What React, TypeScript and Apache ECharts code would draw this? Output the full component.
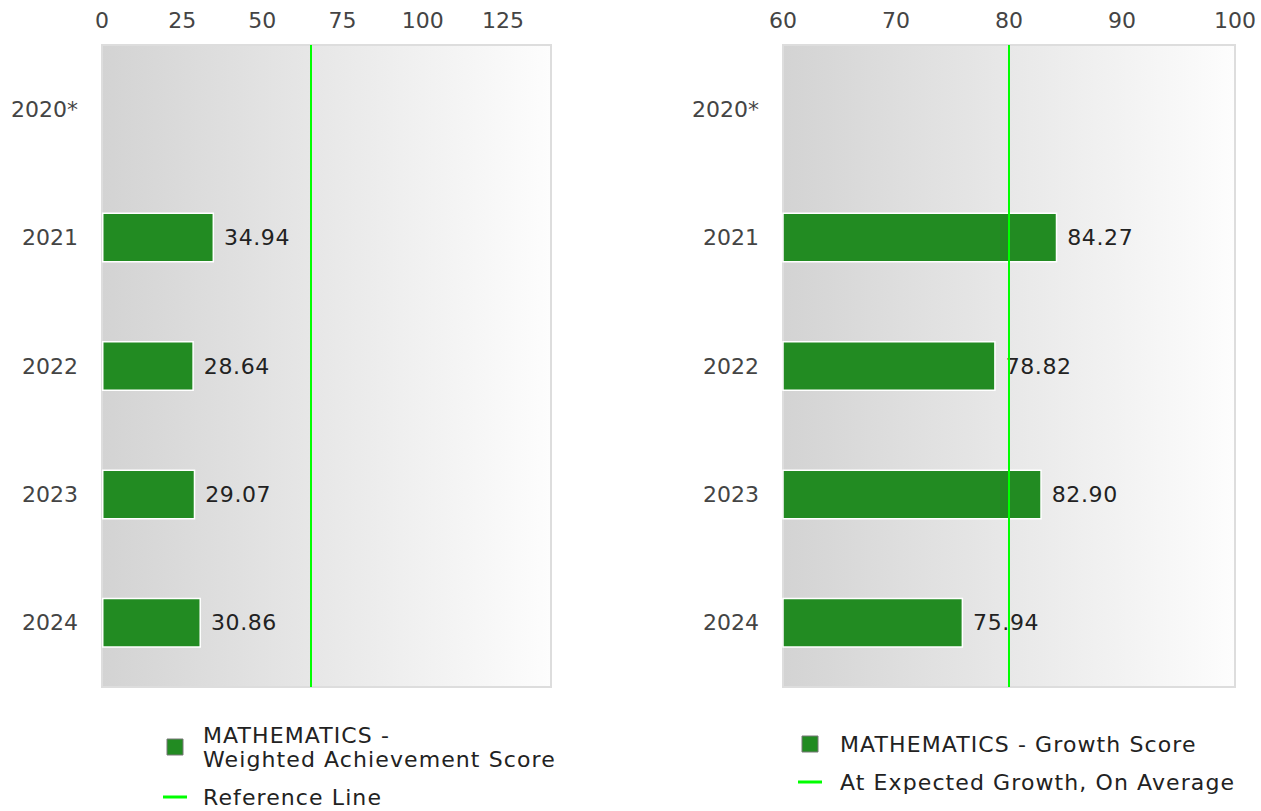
import React, { useEffect, useRef } from "react";
import * as echarts from "echarts";

const years = ["2020*", "2021", "2022", "2023", "2024"];
const achievement: (number | null)[] = [null, 34.94, 28.64, 29.07, 30.86];
const growth: (number | null)[] = [null, 84.27, 78.82, 82.9, 75.94];
const achievementRef = 65;
const growthRef = 80;
const achName = "MATHEMATICS - Weighted Achievement Score";
const achRefName = "Reference Line";
const growthName = "MATHEMATICS - Growth Score";
const growthRefName = "At Expected Growth, On Average";

const FONT = "DejaVu Sans";
const FS = 22;
const GREEN = "#228B22";
const REF = "#00ff00";

export default function App() {
  const ref = useRef<HTMLDivElement>(null);
  useEffect(() => {
    const chart = echarts.init(ref.current!, null, { renderer: "svg" });
    const bg = () =>
      new echarts.graphic.LinearGradient(0, 0, 1, 0, [
        { offset: 0, color: "#d3d3d3" },
        { offset: 1, color: "#fdfdfd" },
      ]);
    const gridCommon = {
      top: 45,
      height: 642,
      show: true,
      borderColor: "#dddddd",
      borderWidth: 2,
    };
    const valueAxis = (idx: number, min: number, max: number, interval: number, showMax: boolean) => ({
      type: "value",
      gridIndex: idx,
      position: "top",
      min,
      max,
      interval,
      axisLine: { show: false },
      axisTick: { show: false },
      splitLine: { show: false },
      axisLabel: {
        margin: 14,
        color: "#444",
        fontFamily: FONT,
        fontSize: FS,
        showMaxLabel: showMax,
      },
    });
    const catAxis = (idx: number) => ({
      type: "category",
      gridIndex: idx,
      data: years,
      inverse: true,
      axisLine: { show: false },
      axisTick: { show: false },
      axisLabel: { margin: 24, color: "#444", fontFamily: FONT, fontSize: FS },
    });
    const barSeries = (name: string, idx: number, data: (number | null)[], refVal: number) => ({
      type: "bar",
      name,
      xAxisIndex: idx,
      yAxisIndex: idx,
      data,
      barWidth: 50,
      clip: true,
      itemStyle: { color: GREEN, borderColor: "#ffffff", borderWidth: 1.5 },
      label: {
        show: true,
        position: "right",
        distance: 10,
        color: "#222",
        fontFamily: FONT,
        fontSize: FS,
        formatter: (p: any) => Number(p.value).toFixed(2),
      },
      markLine: {
        silent: true,
        symbol: "none",
        label: { show: false },
        lineStyle: { color: REF, width: 2, type: "solid" },
        data: [{ xAxis: refVal }],
      },
      z: 2,
    });
    const lineSeries = (name: string, idx: number) => ({
      type: "line",
      name,
      xAxisIndex: idx,
      yAxisIndex: idx,
      data: [],
      symbol: "none",
      color: REF,
      lineStyle: { color: REF, width: 3 },
    });
    const legend = (left: number, top: number, names: string[], padLeft: number) => ({
      orient: "vertical",
      left,
      top,
      padding: 0,
      itemGap: 14,
      itemWidth: 24,
      itemHeight: 16,
      data: [
        {
          name: names[0],
          icon: "path://M0,0H10V10H0Z",
          itemStyle: { color: GREEN, borderColor: "#777", borderWidth: 1 },
        },
        {
          name: names[1],
          icon: "path://M0,0H24V3H0Z",
          itemStyle: { color: REF, borderWidth: 0 },
        },
      ],
      formatter: (n: string) => (n === achName ? "MATHEMATICS -\nWeighted Achievement Score" : n),
      textStyle: {
        fontFamily: FONT,
        fontSize: FS,
        color: "#222",
        lineHeight: 24,
        padding: [0, 0, 0, padLeft],
      },
      selectedMode: false,
    });
    chart.setOption({
      animation: false,
      backgroundColor: "#ffffff",
      grid: [
        { ...gridCommon, left: 102, width: 449, backgroundColor: bg() },
        { ...gridCommon, left: 783, width: 452, backgroundColor: bg() },
      ],
      xAxis: [valueAxis(0, 0, 140, 25, false), valueAxis(1, 60, 100, 10, true)],
      yAxis: [catAxis(0), catAxis(1)],
      legend: [
        legend(163, 723, [achName, achRefName], 11),
        legend(798, 732, [growthName, growthRefName], 13),
      ],
      series: [
        barSeries(achName, 0, achievement, achievementRef),
        lineSeries(achRefName, 0),
        barSeries(growthName, 1, growth, growthRef),
        lineSeries(growthRefName, 1),
      ],
    });
    // widen text spacing to match the reference rendering
    const legendTexts = new Set([
      "MATHEMATICS -",
      "Weighted Achievement Score",
      achRefName,
      growthName,
      growthRefName,
    ]);
    const valueTexts = new Set(
      [...achievement, ...growth].filter((v) => v != null).map((v) => Number(v).toFixed(2))
    );
    ref.current!.querySelectorAll("text, tspan").forEach((el) => {
      const t = (el.textContent || "").trim();
      if (legendTexts.has(t)) (el as SVGElement).style.letterSpacing = "1.1px";
      else if (valueTexts.has(t)) (el as SVGElement).style.letterSpacing = "0.6px";
    });
    return () => chart.dispose();
  }, []);
  return <div ref={ref} style={{ position: "fixed", left: 0, top: 0, width: 1261, height: 811 }} />;
}
